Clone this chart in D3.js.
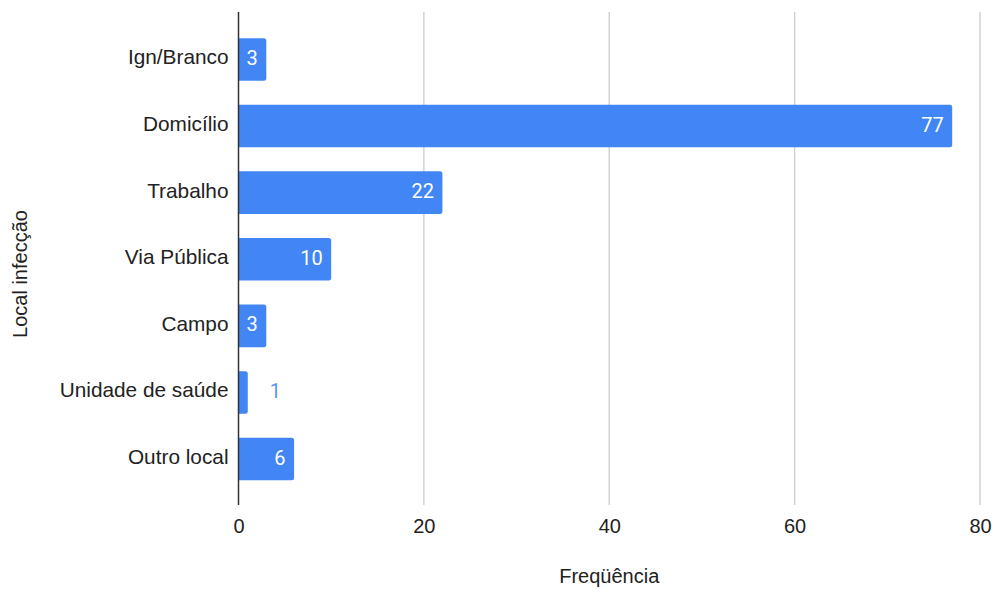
<!DOCTYPE html>
<html>
<head>
<meta charset="utf-8">
<script src="https://cdn.jsdelivr.net/npm/d3@7"></script>
<style>
  html, body { margin: 0; padding: 0; background: #fff; }
  svg { display: block; font-family: "Liberation Sans", Arial, sans-serif; }
</style>
</head>
<body>
<svg id="chart" width="995" height="589"></svg>
<script>
// Local de infecção e frequência de casos
const categories = ["Ign/Branco", "Domicílio", "Trabalho", "Via Pública", "Campo", "Unidade de saúde", "Outro local"];
const values = [3, 77, 22, 10, 3, 1, 6];
const xTicks = [0, 20, 40, 60, 80];
const xTitle = "Freqüência";
const yTitle = "Local infecção";

(function () {
  const svg = d3.select("#chart");
  const barColor = "#4285f4";
  const textColor = "#222";
  const labelFont = "'Liberation Sans', Arial, sans-serif";
  const valueFont = "Roboto, 'Liberation Sans', Arial, sans-serif";
  const plotLeft = 238.5, plotRight = 980, plotTop = 12, plotBottom = 505;

  const x = d3.scaleLinear().domain([0, 80]).range([plotLeft, plotRight]);
  const y = d3.scaleBand().domain(categories).range([plotTop + 1.5, plotBottom]).paddingInner(0.36).paddingOuter(0.37);

  // vertical gridlines
  svg.append("g").selectAll("line").data(xTicks.filter(d => d > 0)).join("line")
    .attr("x1", d => x(d)).attr("x2", d => x(d))
    .attr("y1", plotTop).attr("y2", plotBottom)
    .attr("stroke", "#cccccc").attr("stroke-width", 1.3);

  // x tick labels
  const xAxis = d3.axisBottom(x).tickValues(xTicks).tickSize(0).tickPadding(0);
  const gx = svg.append("g").attr("transform", `translate(0,${plotBottom})`).call(xAxis);
  gx.select(".domain").remove();
  gx.selectAll("text").attr("dy", null).attr("y", 27.7)
    .attr("font-size", 20).attr("fill", textColor).attr("font-family", labelFont);

  // bars with a lightly rounded right end
  const r = 2.5;
  svg.append("g").selectAll("path").data(categories).join("path")
    .attr("fill", barColor)
    .attr("d", (c, i) => {
      const x0 = x(0), x1 = x(values[i]), y0 = y(c), h = y.bandwidth();
      const rr = Math.min(r, (x1 - x0) / 2);
      return `M${x0},${y0}H${x1 - rr}Q${x1},${y0} ${x1},${y0 + rr}V${y0 + h - rr}Q${x1},${y0 + h} ${x1 - rr},${y0 + h}H${x0}Z`;
    });

  // value labels: inside (white) when they fit, outside (blue) otherwise
  svg.append("g").selectAll("text").data(categories).join("text")
    .each(function (c, i) {
      const v = values[i];
      const w = x(v) - x(0);
      const t = d3.select(this)
        .attr("y", y(c) + y.bandwidth() / 2 + 5.6)
        .attr("font-size", 20)
        .attr("font-family", valueFont)
        .text(v);
      if (w > 20) {
        t.attr("x", x(v) - 8.5).attr("text-anchor", "end").attr("fill", "#fff");
      } else {
        t.attr("x", x(v) + 22).attr("text-anchor", "start").attr("fill", "#5b93f5");
      }
    });

  // y axis line and category labels
  const yAxis = d3.axisLeft(y).tickSize(0).tickPadding(10);
  const gy = svg.append("g").attr("transform", `translate(${plotLeft},0)`).call(yAxis);
  gy.select(".domain").attr("stroke", "#333").attr("stroke-width", 1.5).attr("d", `M0,${plotTop}V${plotBottom}`);
  gy.selectAll("text").attr("dy", "0.24em")
    .attr("font-size", 20.8).attr("fill", textColor).attr("font-family", labelFont);

  // axis titles
  svg.append("text")
    .attr("x", (plotLeft + plotRight) / 2).attr("y", 583)
    .attr("text-anchor", "middle").attr("font-size", 20).attr("fill", textColor)
    .text(xTitle);
  svg.append("text")
    .attr("transform", `translate(26.5,274) rotate(-90)`)
    .attr("text-anchor", "middle").attr("font-size", 20).attr("fill", textColor)
    .text(yTitle);
})();
</script>
</body>
</html>
